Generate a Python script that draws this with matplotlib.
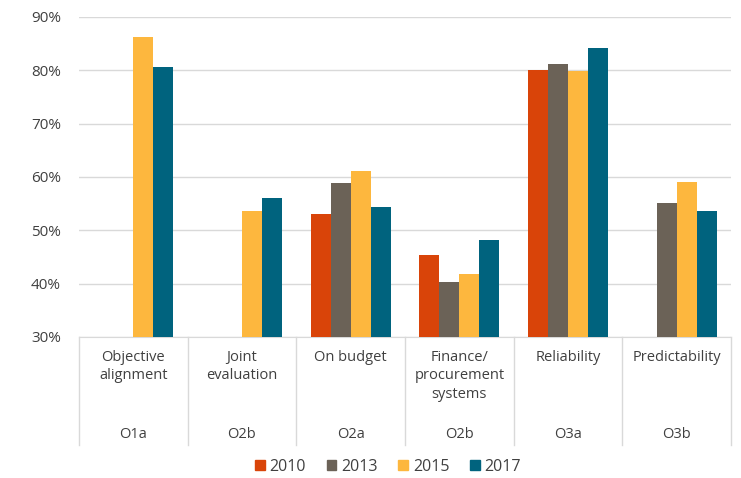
import numpy as np
import matplotlib.pyplot as plt
import matplotlib.transforms as mtransforms
from matplotlib.patches import Patch

plt.rcParams['font.family'] = ['Open Sans', 'DejaVu Sans']

categories = ["Objective\nalignment", "Joint\nevaluation", "On budget",
              "Finance/\nprocurement\nsystems", "Reliability", "Predictability"]
codes = ["O1a", "O2b", "O2a", "O2b", "O3a", "O3b"]
years = ["2010", "2013", "2015", "2017"]
colors = ["#D94409", "#6B6257", "#FDB73E", "#00637E"]

# values in %, None = not available
v2010 = [None, None, 53.0, 45.4, 80.1, None]
v2013 = [None, None, 58.9, 40.4, 81.1, 55.1]
v2015 = [86.3, 53.7, 61.2, 41.8, 79.9, 59.1]
v2017 = [80.7, 56.0, 54.3, 48.1, 84.1, 53.6]
series = [v2010, v2013, v2015, v2017]

fig = plt.figure(figsize=(7.41, 4.78), dpi=100)
ax = fig.add_axes([79 / 741, 1 - 337 / 478, 652 / 741, 320 / 478])

n = len(categories)
x = np.arange(n)
w = 0.184
for i, (vals, c) in enumerate(zip(series, colors)):
    xs = [xi + (i - 1.5) * w for xi, v in zip(x, vals) if v is not None]
    hs = [v for v in vals if v is not None]
    ax.bar(xs, [h - 30 for h in hs], bottom=30, width=w, color=c, zorder=3)

ax.set_xlim(-0.5, n - 0.5)
ax.set_ylim(30, 90)
ax.set_yticks(range(30, 91, 10))
ax.set_yticklabels([f"{t}%" for t in range(30, 91, 10)], fontsize=11, color="#404040")
ax.tick_params(axis='y', length=0, pad=13)
ax.set_xticks([])
ax.grid(axis='y', color="#D9D9D9", linewidth=1, zorder=0)
for s in ["top", "right", "left"]:
    ax.spines[s].set_visible(False)
ax.spines["bottom"].set_color("#D9D9D9")

# category separators and labels below the axis
trans = mtransforms.blended_transform_factory(ax.transData, ax.transAxes)
drop = -108 / 320
for b in np.arange(-0.5, n, 1.0):
    ax.plot([b, b], [0, drop], transform=trans, color="#D9D9D9", lw=1, clip_on=False)
for xi, cat, code in zip(x, categories, codes):
    ax.text(xi, -13 / 320, cat, transform=trans, ha="center", va="top",
            fontsize=10.5, color="#404040", linespacing=1.3)
    ax.text(xi, -98 / 320, code, transform=trans, ha="center", va="center",
            fontsize=10.5, color="#404040")

handles = [Patch(color=c, label=y) for y, c in zip(years, colors)]
fig.legend(handles=handles, loc="center", bbox_to_anchor=(388 / 741, 1 - 467 / 478),
           ncol=4, frameon=False, fontsize=11.5, handlelength=0.6, handleheight=0.6,
           handletextpad=0.3, columnspacing=1.3, labelcolor="#404040")

fig.savefig("out.png", dpi=100)
